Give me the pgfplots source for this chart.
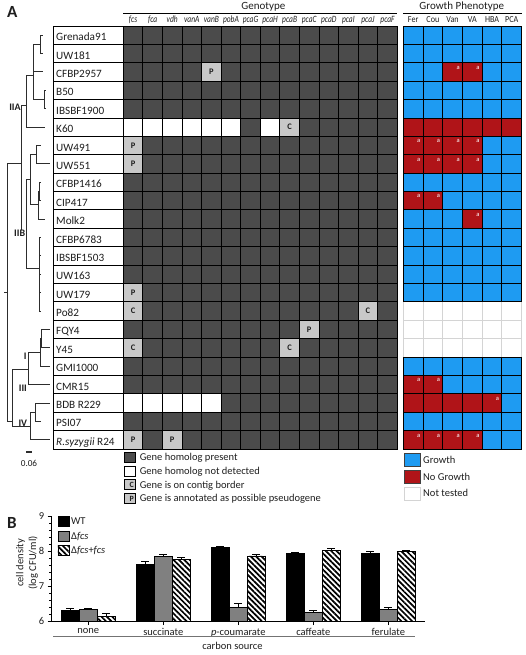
\documentclass[border=0pt]{standalone}
\usepackage{fontspec}
\setmainfont{Carlito}
\usepackage{pgfplots}
\pgfplotsset{compat=1.18}
\usetikzlibrary{patterns.meta}
\definecolor{gdark}{RGB}{75,75,75}
\definecolor{glight}{RGB}{200,200,200}
\definecolor{gblue}{RGB}{30,155,242}
\definecolor{gred}{RGB}{176,20,24}
\definecolor{ntgray}{RGB}{212,212,212}
\definecolor{treec}{RGB}{45,45,45}
\definecolor{bgray}{RGB}{128,128,128}
\definecolor{txt}{RGB}{30,30,30}
\newcommand\fs[1]{\fontsize{#1}{#1}\selectfont}
\newcommand\gn[1]{\scalebox{0.78}[1]{\itshape #1}}
\newcommand\pn[1]{\scalebox{0.88}[1]{#1}}
\pgfdeclareplotmark{gcell}{\pgfpathrectangle{\pgfpoint{-9.786pt}{-9.196pt}}{\pgfpoint{19.571pt}{18.391pt}}\pgfusepathqfillstroke}
\pgfdeclareplotmark{pcell}{\pgfpathrectangle{\pgfpoint{-9.858pt}{-9.196pt}}{\pgfpoint{19.717pt}{18.391pt}}\pgfusepathqfillstroke}
\pgfdeclareplotmark{ncell}{\pgfpathrectangle{\pgfpoint{-35pt}{-9.196pt}}{\pgfpoint{70pt}{18.391pt}}\pgfusepathqfillstroke}
\pgfplotsset{heat/.style={scale only axis, anchor=north west, height=423pt, ymin=-22.5, ymax=0.5, clip=false,
  axis line style={draw=none}, major tick length=0pt, ytick=\empty, xticklabel pos=right,
  xticklabel style={anchor=south, inner sep=0pt, yshift=0.8pt, text=txt}, typeset ticklabels with strut}}
\begin{document}
\begin{tikzpicture}[x=1pt,y=1pt]
\useasboundingbox (0,0) rectangle (525,-655);

% ---------------- tree ----------------
\begin{axis}[scale only axis, anchor=north west, at={(0pt,-26pt)}, width=53pt, height=423pt,
  xmin=0, xmax=53, ymin=-22.5, ymax=0.5, hide axis, clip=false]
\addplot[treec, line width=1pt, mark=none, unbounded coords=jump] table[row sep=\\]{
x y\\
42.7 0\\ 40.7 0\\ 40.7 -1\\ 42.7 -1\\ nan nan\\
40.7 -0.5\\ 33.3 -0.5\\ 33.3 -3.5\\ 44 -3.5\\ nan nan\\
33.3 -2\\ 43.3 -2\\ nan nan\\
45.5 -3\\ 44 -3\\ 44 -4\\ 45.5 -4\\ nan nan\\
33.3 -2.2\\ 26.7 -2.2\\ 26.7 -5\\ 45 -5\\ nan nan\\
26.7 -3.8\\ 21.7 -3.8\\ 21.7 -10.76\\ 26.7 -10.76\\ nan nan\\
30.7 -7.85\\ 26.7 -7.85\\ 26.7 -12.7\\ 39.3 -12.7\\ nan nan\\
36 -6.5\\ 30.7 -6.5\\ 30.7 -9.2\\ 38.3 -9.2\\ nan nan\\
40.7 -6\\ 36 -6\\ 36 -7\\ 50 -7\\ nan nan\\
39.7 -8.5\\ 38.3 -8.5\\ 38.3 -10\\ 45 -10\\ nan nan\\
40.7 -8\\ 39.7 -8\\ 39.7 -9\\ 40.7 -9\\ nan nan\\
40.7 -11\\ 39.3 -11\\ 39.3 -15\\ 40.7 -15\\ nan nan\\
39.3 -12\\ 40.7 -12\\ nan nan\\
39.3 -13\\ 40.7 -13\\ nan nan\\
39.3 -14\\ 40.7 -14\\ nan nan\\
21.7 -7\\ 7.3 -7\\ 7.3 -21\\ 12.7 -21\\ nan nan\\
4 -14\\ 7.3 -14\\ nan nan\\
28.3 -18.2\\ 12.7 -18.2\\ 12.7 -21.3\\ 30 -21.3\\ nan nan\\
40 -17.25\\ 28.3 -17.25\\ 28.3 -19\\ 50 -19\\ nan nan\\
41.3 -16.5\\ 40 -16.5\\ 40 -18\\ 50 -18\\ nan nan\\
50 -16\\ 41.3 -16\\ 41.3 -17\\ 50 -17\\ nan nan\\
35.7 -20.5\\ 30 -20.5\\ 30 -22\\ 50 -22\\ nan nan\\
50 -20\\ 35.7 -20\\ 35.7 -21\\ 40.7 -21\\
};
\addplot[treec, line width=1.4pt, mark=none] coordinates {(26,-22.66) (32,-22.66)};
\end{axis}
\begin{scope}[every node/.style={font=\bfseries\fs{10}, text=txt, inner sep=0.5pt}]
\node[anchor=east] at (21.4,-107) {IIA};
\node[anchor=east, fill=white] at (25.8,-233.5) {IIB};
\node[anchor=east] at (27.3,-356.7) {I};
\node[anchor=east] at (27.6,-388.1) {III};
\node[anchor=south, inner sep=0.6pt] at (22.8,-426.9) {IV};
\end{scope}
\node[font=\fs{9.2}, text=txt] at (29,-463) {0.06};

% ---------------- strain names ----------------
\begin{axis}[scale only axis, anchor=north west, at={(53.3pt,-26pt)}, width=70pt, height=423pt,
  xmin=0, xmax=70, ymin=-22.5, ymax=0.5, hide axis, clip=false]
\addplot[only marks, mark=ncell, mark options={fill=white, draw=black, line width=0.9pt}] coordinates {
(35,0) (35,-1) (35,-2) (35,-3) (35,-4) (35,-5) (35,-6) (35,-7) (35,-8) (35,-9) (35,-10) (35,-11)
(35,-12) (35,-13) (35,-14) (35,-15) (35,-16) (35,-17) (35,-18) (35,-19) (35,-20) (35,-21) (35,-22)};
\end{axis}
\foreach \nm [count=\i from 0] in {Grenada91,UW181,CFBP2957,B50,IBSBF1900,K60,UW491,UW551,CFBP1416,CIP417,Molk2,CFBP6783,IBSBF1503,UW163,UW179,Po82,FQY4,Y45,GMI1000,CMR15,BDB R229,PSI07,\textit{R.syzygii} R24}
  \node[anchor=base west, font=\fs{11.2}, text=txt, inner sep=0pt] at (56,{-(40.7+18.391*\i)}) {\nm};

% ---------------- genotype ----------------
\begin{axis}[heat, at={(123.3pt,-26pt)}, width=274pt, xmin=-0.5, xmax=13.5,
  xtick={0,...,13},
  xticklabels={\gn{fcs},\gn{fca},\gn{vdh},\gn{vanA},\gn{vanB},\gn{pobA},\gn{pcaG},\gn{pcaH},\gn{pcaB},\gn{pcaC},\gn{pcaD},\gn{pcaI},\gn{pcaJ},\gn{pcaF}},
  xticklabel style={font=\fs{9.6}},
  legend style={at={(axis description cs:0,0)}, anchor=north west, yshift=-3pt, draw=none, fill=none,
    inner sep=0pt, row sep=2.9pt, font=\fs{10.5}, text=txt,
    nodes={inner sep=0pt, text height=8pt, text depth=1.5pt},
    /tikz/every odd column/.append style={column sep=4.6pt}},
  legend cell align=left]
\addplot[forget plot, scatter, only marks, scatter src=explicit symbolic,
  scatter/classes={d={mark=gcell,fill=gdark,draw=black,line width=0.9pt},
                   w={mark=gcell,fill=white,draw=black,line width=0.9pt},
                   l={mark=gcell,fill=glight,draw=black,line width=0.9pt}}]
  table[meta=c, row sep=\\]{
x y c\\
0 0 d\\1 0 d\\2 0 d\\3 0 d\\4 0 d\\5 0 d\\6 0 d\\7 0 d\\8 0 d\\9 0 d\\10 0 d\\11 0 d\\12 0 d\\13 0 d\\
0 -1 d\\1 -1 d\\2 -1 d\\3 -1 d\\4 -1 d\\5 -1 d\\6 -1 d\\7 -1 d\\8 -1 d\\9 -1 d\\10 -1 d\\11 -1 d\\12 -1 d\\13 -1 d\\
0 -2 d\\1 -2 d\\2 -2 d\\3 -2 d\\4 -2 l\\5 -2 d\\6 -2 d\\7 -2 d\\8 -2 d\\9 -2 d\\10 -2 d\\11 -2 d\\12 -2 d\\13 -2 d\\
0 -3 d\\1 -3 d\\2 -3 d\\3 -3 d\\4 -3 d\\5 -3 d\\6 -3 d\\7 -3 d\\8 -3 d\\9 -3 d\\10 -3 d\\11 -3 d\\12 -3 d\\13 -3 d\\
0 -4 d\\1 -4 d\\2 -4 d\\3 -4 d\\4 -4 d\\5 -4 d\\6 -4 d\\7 -4 d\\8 -4 d\\9 -4 d\\10 -4 d\\11 -4 d\\12 -4 d\\13 -4 d\\
0 -5 w\\1 -5 w\\2 -5 w\\3 -5 w\\4 -5 w\\5 -5 w\\6 -5 d\\7 -5 w\\8 -5 l\\9 -5 d\\10 -5 d\\11 -5 d\\12 -5 d\\13 -5 d\\
0 -6 l\\1 -6 d\\2 -6 d\\3 -6 d\\4 -6 d\\5 -6 d\\6 -6 d\\7 -6 d\\8 -6 d\\9 -6 d\\10 -6 d\\11 -6 d\\12 -6 d\\13 -6 d\\
0 -7 l\\1 -7 d\\2 -7 d\\3 -7 d\\4 -7 d\\5 -7 d\\6 -7 d\\7 -7 d\\8 -7 d\\9 -7 d\\10 -7 d\\11 -7 d\\12 -7 d\\13 -7 d\\
0 -8 d\\1 -8 d\\2 -8 d\\3 -8 d\\4 -8 d\\5 -8 d\\6 -8 d\\7 -8 d\\8 -8 d\\9 -8 d\\10 -8 d\\11 -8 d\\12 -8 d\\13 -8 d\\
0 -9 d\\1 -9 d\\2 -9 d\\3 -9 d\\4 -9 d\\5 -9 d\\6 -9 d\\7 -9 d\\8 -9 d\\9 -9 d\\10 -9 d\\11 -9 d\\12 -9 d\\13 -9 d\\
0 -10 d\\1 -10 d\\2 -10 d\\3 -10 d\\4 -10 d\\5 -10 d\\6 -10 d\\7 -10 d\\8 -10 d\\9 -10 d\\10 -10 d\\11 -10 d\\12 -10 d\\13 -10 d\\
0 -11 d\\1 -11 d\\2 -11 d\\3 -11 d\\4 -11 d\\5 -11 d\\6 -11 d\\7 -11 d\\8 -11 d\\9 -11 d\\10 -11 d\\11 -11 d\\12 -11 d\\13 -11 d\\
0 -12 d\\1 -12 d\\2 -12 d\\3 -12 d\\4 -12 d\\5 -12 d\\6 -12 d\\7 -12 d\\8 -12 d\\9 -12 d\\10 -12 d\\11 -12 d\\12 -12 d\\13 -12 d\\
0 -13 d\\1 -13 d\\2 -13 d\\3 -13 d\\4 -13 d\\5 -13 d\\6 -13 d\\7 -13 d\\8 -13 d\\9 -13 d\\10 -13 d\\11 -13 d\\12 -13 d\\13 -13 d\\
0 -14 l\\1 -14 d\\2 -14 d\\3 -14 d\\4 -14 d\\5 -14 d\\6 -14 d\\7 -14 d\\8 -14 d\\9 -14 d\\10 -14 d\\11 -14 d\\12 -14 d\\13 -14 d\\
0 -15 l\\1 -15 d\\2 -15 d\\3 -15 d\\4 -15 d\\5 -15 d\\6 -15 d\\7 -15 d\\8 -15 d\\9 -15 d\\10 -15 d\\11 -15 d\\12 -15 l\\13 -15 d\\
0 -16 d\\1 -16 d\\2 -16 d\\3 -16 d\\4 -16 d\\5 -16 d\\6 -16 d\\7 -16 d\\8 -16 d\\9 -16 l\\10 -16 d\\11 -16 d\\12 -16 d\\13 -16 d\\
0 -17 l\\1 -17 d\\2 -17 d\\3 -17 d\\4 -17 d\\5 -17 d\\6 -17 d\\7 -17 d\\8 -17 l\\9 -17 d\\10 -17 d\\11 -17 d\\12 -17 d\\13 -17 d\\
0 -18 d\\1 -18 d\\2 -18 d\\3 -18 d\\4 -18 d\\5 -18 d\\6 -18 d\\7 -18 d\\8 -18 d\\9 -18 d\\10 -18 d\\11 -18 d\\12 -18 d\\13 -18 d\\
0 -19 d\\1 -19 d\\2 -19 d\\3 -19 d\\4 -19 d\\5 -19 d\\6 -19 d\\7 -19 d\\8 -19 d\\9 -19 d\\10 -19 d\\11 -19 d\\12 -19 d\\13 -19 d\\
0 -20 w\\1 -20 w\\2 -20 w\\3 -20 w\\4 -20 w\\5 -20 d\\6 -20 d\\7 -20 d\\8 -20 d\\9 -20 d\\10 -20 d\\11 -20 d\\12 -20 d\\13 -20 d\\
0 -21 d\\1 -21 d\\2 -21 d\\3 -21 d\\4 -21 d\\5 -21 d\\6 -21 d\\7 -21 d\\8 -21 d\\9 -21 d\\10 -21 d\\11 -21 d\\12 -21 d\\13 -21 d\\
0 -22 l\\1 -22 d\\2 -22 l\\3 -22 d\\4 -22 d\\5 -22 d\\6 -22 d\\7 -22 d\\8 -22 d\\9 -22 d\\10 -22 d\\11 -22 d\\12 -22 d\\13 -22 d\\
};
\addplot[forget plot, black, only marks, mark=text, text mark={P}, text mark as node=true,
  text mark style={font=\bfseries\fs{8.5}, text=txt}]
  coordinates {(4,-2) (0,-6) (0,-7) (0,-14) (9,-16) (0,-22) (2,-22)};
\addplot[forget plot, black, only marks, mark=text, text mark={C}, text mark as node=true,
  text mark style={font=\bfseries\fs{8.5}, text=txt}]
  coordinates {(8,-5) (0,-15) (12,-15) (0,-17) (8,-17)};
\addlegendimage{legend image code/.code={\draw[fill=gdark,draw=black,line width=0.7pt] (0pt,-5pt) rectangle (11pt,5pt);}}
\addlegendentry{Gene homolog present}
\addlegendimage{legend image code/.code={\draw[fill=white,draw=black,line width=0.7pt] (0pt,-5pt) rectangle (11pt,5pt);}}
\addlegendentry{Gene homolog not detected}
\addlegendimage{legend image code/.code={\draw[fill=glight,draw=black,line width=0.7pt] (0pt,-5pt) rectangle (11pt,5pt); \node[font=\bfseries\fs{8}, text height=5.3pt, text depth=0pt, inner sep=0pt, text=txt] at (5.5pt,0pt) {C};}}
\addlegendentry{Gene is on contig border}
\addlegendimage{legend image code/.code={\draw[fill=glight,draw=black,line width=0.7pt] (0pt,-5pt) rectangle (11pt,5pt); \node[font=\bfseries\fs{8}, text height=5.3pt, text depth=0pt, inner sep=0pt, text=txt] at (5.5pt,0pt) {P};}}
\addlegendentry{Gene is annotated as possible pseudogene}
\end{axis}

% ---------------- growth phenotype ----------------
\begin{axis}[heat, at={(403.3pt,-26pt)}, width=118.3pt, xmin=-0.5, xmax=5.5,
  xtick={0,...,5}, xticklabels={\pn{Fer},\pn{Cou},\pn{Van},\pn{VA},\pn{HBA},\pn{PCA}},
  xticklabel style={font=\fs{9.2}},
  legend style={at={(axis description cs:0,0)}, anchor=north west, xshift=0.7pt, yshift=-3.7pt, draw=none, fill=none,
    inner sep=0pt, row sep=3pt, font=\fs{10.5}, text=txt,
    nodes={inner sep=0pt, text height=8pt, text depth=1.5pt},
    /tikz/every odd column/.append style={column sep=3pt}},
  legend cell align=left]
\addplot[forget plot, only marks, mark=pcell, mark options={fill=white, draw=ntgray, line width=0.9pt}] coordinates {
(0,-15) (1,-15) (2,-15) (3,-15) (4,-15) (5,-15)
(0,-16) (1,-16) (2,-16) (3,-16) (4,-16) (5,-16)
(0,-17) (1,-17) (2,-17) (3,-17) (4,-17) (5,-17)};
\addplot[forget plot, scatter, only marks, scatter src=explicit symbolic,
  scatter/classes={b={mark=pcell,fill=gblue,draw=black,line width=0.9pt},
                   r={mark=pcell,fill=gred,draw=black,line width=0.9pt}}]
  table[meta=c, row sep=\\]{
x y c\\
0 0 b\\1 0 b\\2 0 b\\3 0 b\\4 0 b\\5 0 b\\
0 -1 b\\1 -1 b\\2 -1 b\\3 -1 b\\4 -1 b\\5 -1 b\\
0 -2 b\\1 -2 b\\2 -2 r\\3 -2 r\\4 -2 b\\5 -2 b\\
0 -3 b\\1 -3 b\\2 -3 b\\3 -3 b\\4 -3 b\\5 -3 b\\
0 -4 b\\1 -4 b\\2 -4 b\\3 -4 b\\4 -4 b\\5 -4 b\\
0 -5 r\\1 -5 r\\2 -5 r\\3 -5 r\\4 -5 r\\5 -5 r\\
0 -6 r\\1 -6 r\\2 -6 r\\3 -6 r\\4 -6 b\\5 -6 b\\
0 -7 r\\1 -7 r\\2 -7 r\\3 -7 r\\4 -7 b\\5 -7 b\\
0 -8 b\\1 -8 b\\2 -8 b\\3 -8 b\\4 -8 b\\5 -8 b\\
0 -9 r\\1 -9 r\\2 -9 b\\3 -9 b\\4 -9 b\\5 -9 b\\
0 -10 b\\1 -10 b\\2 -10 b\\3 -10 r\\4 -10 b\\5 -10 b\\
0 -11 b\\1 -11 b\\2 -11 b\\3 -11 b\\4 -11 b\\5 -11 b\\
0 -12 b\\1 -12 b\\2 -12 b\\3 -12 b\\4 -12 b\\5 -12 b\\
0 -13 b\\1 -13 b\\2 -13 b\\3 -13 b\\4 -13 b\\5 -13 b\\
0 -14 b\\1 -14 b\\2 -14 b\\3 -14 b\\4 -14 b\\5 -14 b\\
0 -18 b\\1 -18 b\\2 -18 b\\3 -18 b\\4 -18 b\\5 -18 b\\
0 -19 r\\1 -19 r\\2 -19 b\\3 -19 b\\4 -19 b\\5 -19 b\\
0 -20 r\\1 -20 r\\2 -20 r\\3 -20 r\\4 -20 r\\5 -20 b\\
0 -21 b\\1 -21 b\\2 -21 b\\3 -21 b\\4 -21 b\\5 -21 b\\
0 -22 r\\1 -22 r\\2 -22 r\\3 -22 r\\4 -22 b\\5 -22 b\\
};
\addplot[forget plot, white, only marks, mark=text, text mark={a}, text mark as node=true,
  text mark style={font=\fs{6.5}, text=white, xshift=5.5pt, yshift=4.3pt}]
  coordinates {(2,-2) (3,-2) (0,-6) (1,-6) (2,-6) (3,-6) (0,-7) (1,-7) (2,-7) (3,-7)
   (0,-9) (1,-9) (3,-10) (0,-19) (1,-19) (4,-20) (0,-22) (1,-22) (2,-22) (3,-22)};
\addlegendimage{legend image code/.code={\draw[fill=gblue,draw=black!75,line width=0.7pt] (0pt,-6.6pt) rectangle (15.3pt,6.6pt);}}
\addlegendentry{Growth}
\addlegendimage{legend image code/.code={\draw[fill=gred,draw=black!75,line width=0.7pt] (0pt,-6.6pt) rectangle (15.3pt,6.6pt);}}
\addlegendentry{No Growth}
\addlegendimage{legend image code/.code={\draw[fill=white,draw=ntgray,line width=0.7pt] (0pt,-6.6pt) rectangle (15.3pt,6.6pt);}}
\addlegendentry{Not tested}
\end{axis}

% ---------------- headers ----------------
\node[anchor=base west, font=\bfseries\fs{17}, text=txt] at (3.5,-17.3) {A};
\node[anchor=base, font=\fs{11}, text=txt] at (263.3,-9.5) {Genotype};
\node[anchor=base, font=\fs{11}, text=txt] at (461.7,-9.5) {Growth Phenotype};
\draw[line width=0.9pt] (123.3,-13.3) -- (397.3,-13.3);
\draw[line width=0.9pt] (403.3,-13.3) -- (521.7,-13.3);

% ---------------- panel B ----------------
\node[anchor=base west, font=\bfseries\fs{17}, text=txt] at (3.5,-528.5) {B};
\begin{axis}[at={(51.7pt,-621pt)}, anchor=south west, scale only axis, width=373.3pt, height=105pt,
  xmin=-0.488, xmax=4.489, ymin=6, ymax=9,
  axis x line*=bottom, axis y line*=left, axis line style={line width=0.9pt, black},
  ytick={6,7,8,9}, minor y tick num=4,
  xtick={0,...,4}, xticklabels={none,succinate,\textit{p}-coumarate,caffeate,ferulate},
  tick align=outside, major tick length=4pt, minor tick length=2.5pt, tick style={black, line width=0.8pt},
  ticklabel style={font=\fs{10.5}, text=txt},
  /pgf/number format/assume math mode=true,
  ybar, bar width=18pt,
  legend image code/.code={\draw[#1, line width=0.8pt] (0pt,-5pt) rectangle (11pt,5pt);},
  legend style={at={(axis description cs:0.015,1.0)}, anchor=north west, draw=none, fill=none,
    inner sep=0pt, row sep=3.5pt, font=\fs{10.5}, text=txt,
    nodes={inner sep=0pt, text height=8pt, text depth=1.5pt},
    /tikz/every odd column/.append style={column sep=1.8pt}},
  legend cell align=left,
  error bars/y dir=plus, error bars/y explicit,
  error bars/error bar style={line width=1pt, black},
  error bars/error mark options={rotate=90, mark size=4pt, line width=1pt, black}]
\addplot[fill=black, draw=black, line width=0.8pt, bar shift=-18pt] coordinates {
 (0,6.31) +- (0,0.05) (1,7.62) +- (0,0.07) (2,8.10) +- (0,0.03) (3,7.93) +- (0,0.03) (4,7.92) +- (0,0.08)};
\addplot[fill=bgray, draw=black, line width=0.8pt, bar shift=0pt] coordinates {
 (0,6.33) +- (0,0.02) (1,7.84) +- (0,0.07) (2,6.39) +- (0,0.12) (3,6.25) +- (0,0.04) (4,6.33) +- (0,0.05)};
\addplot[pattern={Lines[angle=-45,distance=3.8pt,line width=1.7pt]}, pattern color=black, draw=black, line width=0.8pt, bar shift=18pt] coordinates {
 (0,6.14) +- (0,0.08) (1,7.76) +- (0,0.05) (2,7.86) +- (0,0.03) (3,8.01) +- (0,0.06) (4,7.99) +- (0,0.02)};
\legend{WT, Δ\textit{fcs}, Δ\textit{fcs}+\textit{fcs}}
\end{axis}
\node[rotate=90, align=center, font=\fontsize{10.5}{12.6}\selectfont, text=txt] at (27,-563) {cell density\\(log CFU/ml)};
\draw[line width=0.8pt, black!55] (53.3,-636) -- (415,-636);
\node[font=\fs{10.5}, text=txt] at (232.5,-646) {carbon source};
\end{tikzpicture}
\end{document}
